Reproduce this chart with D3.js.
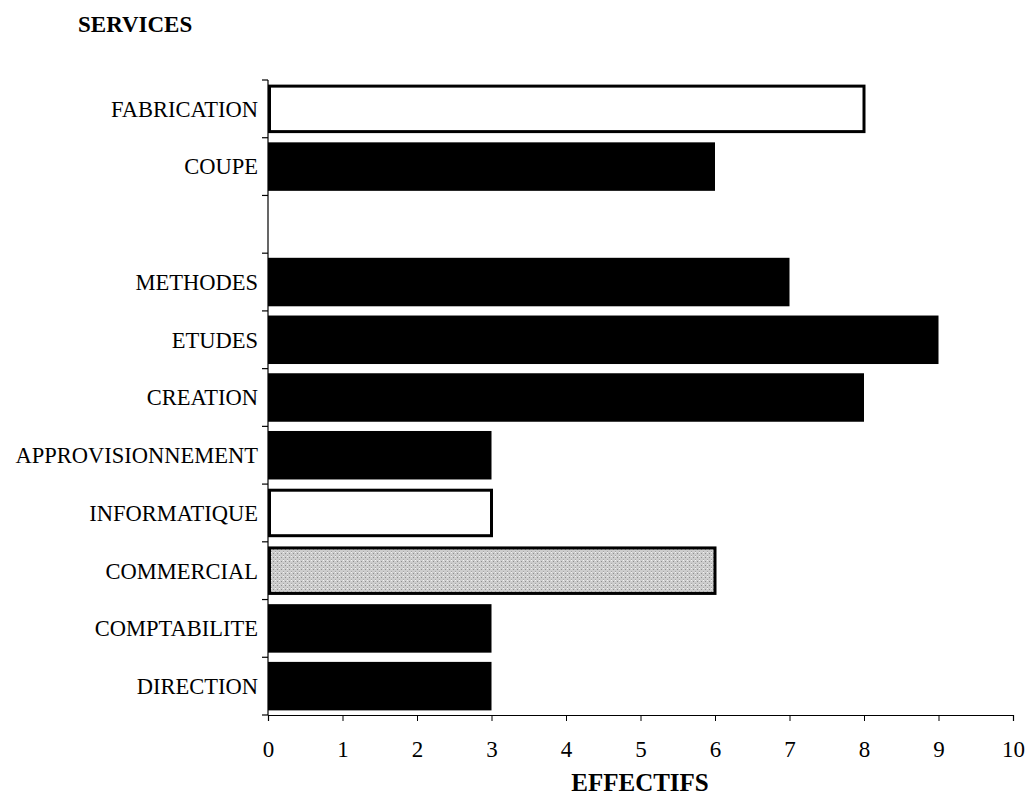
<!DOCTYPE html>
<html>
<head>
<meta charset="utf-8">
<script src="https://cdn.jsdelivr.net/npm/d3@7"></script>
<style>
  body { margin: 0; background: #fff; }
  text { font-family: "Liberation Serif", "Times New Roman", serif; }
</style>
</head>
<body>
<svg id="chart" width="1029" height="800"></svg>
<script>
// services de bas en haut ; "" = emplacement vide
const services = ["DIRECTION", "COMPTABILITE", "COMMERCIAL", "INFORMATIQUE", "APPROVISIONNEMENT",
                  "CREATION", "ETUDES", "METHODES", "", "COUPE", "FABRICATION"];
const effectifs = [3, 3, 6, 3, 3, 8, 9, 7, null, 6, 8];
const remplissage = ["noir", "noir", "gris", "blanc", "noir", "noir", "noir", "noir", null, "noir", "blanc"];
const xTicks = [0, 1, 2, 3, 4, 5, 6, 7, 8, 9, 10];

const svg = d3.select("#chart");
const margin = { top: 80, right: 16, bottom: 85, left: 268 };
const width = 1029 - margin.left - margin.right;
const height = 800 - margin.top - margin.bottom;

const g = svg.append("g").attr("transform", `translate(${margin.left},${margin.top})`);

const x = d3.scaleLinear().domain([0, 10]).range([0, width]);
const keys = services.map((s, i) => i + "|" + s);
const y = d3.scaleBand().domain(keys.slice().reverse()).range([0, height]).paddingInner(0.16).paddingOuter(0.08);

// motif pointillé pour le gris
const defs = svg.append("defs");
const pat = defs.append("pattern").attr("id", "stipple").attr("width", 4).attr("height", 4)
  .attr("patternUnits", "userSpaceOnUse");
pat.append("rect").attr("width", 4).attr("height", 4).attr("fill", "#cdcdcd");
pat.append("rect").attr("x", 1).attr("y", 1).attr("width", 1).attr("height", 1).attr("fill", "#8f8f8f");
pat.append("rect").attr("x", 3).attr("y", 3).attr("width", 1).attr("height", 1).attr("fill", "#a5a5a5");
pat.append("rect").attr("x", 3).attr("y", 0).attr("width", 1).attr("height", 1).attr("fill", "#f2f2f2");

const fills = { noir: "#000", blanc: "#fff", gris: "url(#stipple)" };

const data = services.map((s, i) => ({ key: keys[i], name: s, v: effectifs[i], f: remplissage[i] }))
  .filter(d => d.v != null);

g.selectAll("rect.bar")
  .data(data)
  .enter()
  .append("rect")
  .attr("class", "bar")
  .attr("x", d => d.f === "noir" ? 0 : 1.5)
  .attr("y", d => y(d.key) + (d.f === "noir" ? 0 : 1.5))
  .attr("width", d => x(d.v) - (d.f === "noir" ? 0 : 1.5))
  .attr("height", d => y.bandwidth() - (d.f === "noir" ? 0 : 3))
  .attr("fill", d => fills[d.f])
  .attr("stroke", d => d.f === "noir" ? "none" : "#000")
  .attr("stroke-width", 3);

// axe Y : ligne + graduations entre catégories
const step = height / services.length;
g.append("line").attr("x1", 0).attr("x2", 0).attr("y1", 0).attr("y2", height)
  .attr("stroke", "#000").attr("stroke-width", 1.2);
g.selectAll("line.ytick")
  .data(d3.range(services.length + 1))
  .enter()
  .append("line")
  .attr("class", "ytick")
  .attr("x1", -6).attr("x2", 0)
  .attr("y1", i => i * step).attr("y2", i => i * step)
  .attr("stroke", "#000").attr("stroke-width", 1.2);

g.selectAll("text.ylab")
  .data(data)
  .enter()
  .append("text")
  .attr("class", "ylab")
  .attr("x", -10)
  .attr("y", d => y(d.key) + y.bandwidth() / 2)
  .attr("dy", "0.35em")
  .attr("text-anchor", "end")
  .attr("font-size", 22.5)
  .text(d => d.name);

// axe X
const xAxis = g.append("g")
  .attr("transform", `translate(0,${height})`)
  .call(d3.axisBottom(x).tickValues(xTicks).tickFormat(d3.format("d")).tickSize(6).tickPadding(20));
xAxis.select(".domain").attr("stroke-width", 1.2);
xAxis.selectAll("text").attr("font-size", 23).attr("font-family", "Liberation Serif, serif").attr("fill", "#000");

svg.append("text").attr("x", 78).attr("y", 32).attr("font-size", 23).attr("font-weight", "bold").text("SERVICES");
svg.append("text").attr("x", 640).attr("y", 791).attr("text-anchor", "middle")
  .attr("font-size", 25).attr("font-weight", "bold").text("EFFECTIFS");
</script>
</body>
</html>
